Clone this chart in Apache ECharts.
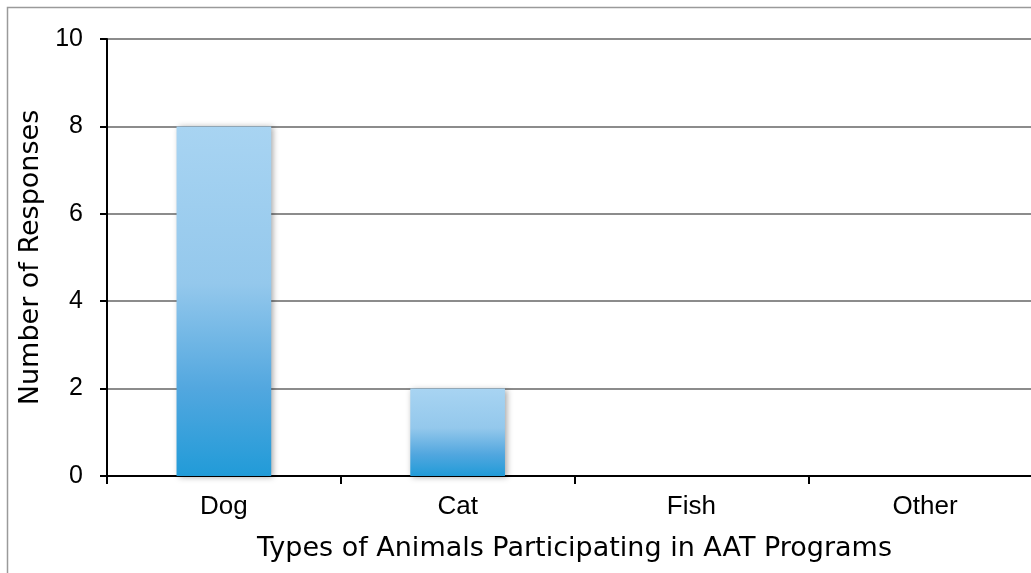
<!DOCTYPE html>
<html>
<head>
<meta charset="utf-8">
<style>
  html, body { margin: 0; padding: 0; background: #ffffff; }
  #chart { width: 1031px; height: 573px; }
</style>
<script src="https://cdn.jsdelivr.net/npm/echarts@6/dist/echarts.min.js"></script>
</head>
<body>
<div id="chart"></div>
<script>
// Animal types and how many survey responses named each one
const animalTypes = ['Dog', 'Cat', 'Fish', 'Other'];
const responseCounts = [8, 2, 0, 0];
const yTicks = { min: 0, max: 10, step: 2 };

const chart = echarts.init(document.getElementById('chart'), null, { renderer: 'canvas' });

const barFill = new echarts.graphic.LinearGradient(0, 0, 0, 1, [
  { offset: 0, color: '#a8d4f2' },
  { offset: 0.45, color: '#94c8ec' },
  { offset: 0.75, color: '#52a7df' },
  { offset: 1, color: '#219bd8' }
]);

chart.setOption({
  animation: false,
  graphic: [{
    type: 'rect',
    shape: { x: 7.5, y: 7.5, width: 1100, height: 700 },
    style: { fill: 'none', stroke: '#9a9a9a', lineWidth: 1.5 },
    silent: true,
    z: -1
  }],
  // plot area runs slightly past the right edge of the page
  grid: {
    left: 107, width: 935, top: 39, height: 437,
    containLabel: false,
    outerBoundsMode: 'none'
  },
  xAxis: {
    type: 'category',
    data: animalTypes,
    boundaryGap: true,
    name: 'Types of Animals Participating in AAT Programs',
    nameLocation: 'middle',
    nameGap: 59,
    nameTextStyle: { fontFamily: 'DejaVu Sans', fontSize: 27, color: '#000' },
    axisLine: { lineStyle: { color: '#000', width: 2 } },
    axisTick: { show: true, length: 8, alignWithLabel: false, lineStyle: { color: '#000', width: 2 } },
    axisLabel: { fontFamily: 'Liberation Sans', fontSize: 26, color: '#000', margin: 18 }
  },
  yAxis: {
    type: 'value',
    min: yTicks.min,
    max: yTicks.max,
    interval: yTicks.step,
    name: 'Number of Responses',
    nameLocation: 'middle',
    nameGap: 61,
    nameRotate: 90,
    nameTextStyle: { fontFamily: 'DejaVu Sans', fontSize: 27, color: '#000' },
    axisLine: { show: true, lineStyle: { color: '#000', width: 2 } },
    axisTick: { show: true, length: 7, lineStyle: { color: '#000', width: 2 } },
    axisLabel: { fontFamily: 'Liberation Sans', fontSize: 25, color: '#000', margin: 24 },
    splitLine: { show: true, lineStyle: { color: '#8c8c8c', width: 2 } }
  },
  series: [{
    type: 'bar',
    data: responseCounts,
    barWidth: '40.5%',
    itemStyle: {
      color: barFill,
      shadowColor: 'rgba(0,0,0,0.35)',
      shadowBlur: 6,
      shadowOffsetX: 2,
      shadowOffsetY: 1
    }
  }]
});
</script>
</body>
</html>
